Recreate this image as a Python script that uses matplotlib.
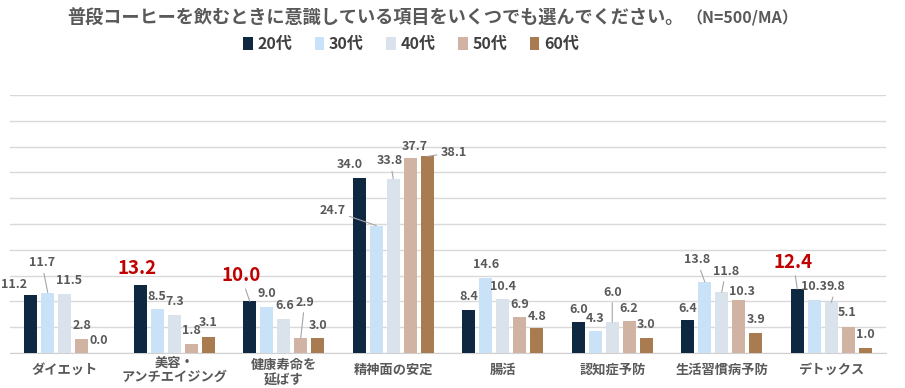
import matplotlib
matplotlib.use("Agg")
import matplotlib.pyplot as plt
from matplotlib.patches import Patch
from matplotlib.transforms import ScaledTranslation
import numpy as np

plt.rcParams["font.family"] = ["Noto Sans CJK JP", "DejaVu Sans"]

categories = ["ダイエット", "美容・\nアンチエイジング", "健康寿命を\n延ばす", "精神面の安定",
              "腸活", "認知症予防", "生活習慣病予防", "デトックス"]
age_groups = ["20代", "30代", "40代", "50代", "60代"]

v20 = [11.2, 13.2, 10.0, 34.0, 8.4, 6.0, 6.4, 12.4]
v30 = [11.7, 8.5, 9.0, 24.7, 14.6, 4.3, 13.8, 10.3]
v40 = [11.5, 7.3, 6.6, 33.8, 10.4, 6.0, 11.8, 9.8]
v50 = [2.8, 1.8, 2.9, 37.7, 6.9, 6.2, 10.3, 5.1]
v60 = [0.0, 3.1, 3.0, 38.1, 4.8, 3.0, 3.9, 1.0]
series = [v20, v30, v40, v50, v60]

title_main = "普段コーヒーを飲むときに意識している項目をいくつでも選んでください。"
title_note = "（N=500/MA）"

colors = ["#0E2841", "#C9E2F7", "#DAE3EC", "#D1B3A3", "#A87B51"]
text_gray = "#595959"
red = "#C00000"

# label placement: (series, category) -> (dx px, dy px, leader line)
label_pos = {
    (0, 0): (-17, 11, False), (1, 0): (-6, 30, True), (2, 0): (4, 13, False),
    (0, 1): (-3, 16, False), (2, 1): (1, 14, False), (4, 1): (0, 15, False),
    (0, 2): (-9, 26, True), (2, 2): (1, 13, False), (3, 2): (4, 36, True), (4, 2): (0, 12, False),
    (0, 3): (-10, 13, False), (1, 3): (-44, 15, True), (2, 3): (-3, 18, True),
    (3, 3): (5, 12, False), (4, 3): (27, 4, True),
    (4, 4): (0, 12, False),
    (1, 5): (0, 12, False), (2, 5): (0, 30, True),
    (0, 6): (0, 11, False), (1, 6): (-8, 22, True), (2, 6): (4, 21, True), (3, 6): (3, 8, False),
    (0, 7): (-4, 27, True), (2, 7): (5, 16, True), (3, 7): (-1, 14, False),
}
red_labels = {(0, 1), (0, 2), (0, 7)}

fig = plt.figure(figsize=(9.05, 3.88), dpi=100)
ax = fig.add_axes([10 / 905, 35 / 388, 876 / 905, 258 / 388])

x = np.arange(len(categories))
step = 0.155
width = 0.122
for s, vals in enumerate(series):
    xs = x + (s - 2) * step
    ax.bar(xs, vals, width=width, color=colors[s], zorder=3)
    for c, v in enumerate(vals):
        dx, dy, leader = label_pos.get((s, c), (0, 13, False))
        is_red = (s, c) in red_labels
        ax.annotate(
            f"{v:.1f}", xy=(xs[c], v), xytext=(dx, dy), textcoords="offset pixels",
            ha="center", va="center", fontweight="bold",
            fontsize=13.5 if is_red else 9,
            color=red if is_red else text_gray,
            arrowprops=dict(arrowstyle="-", color="#A6A6A6", lw=0.8, shrinkA=1, shrinkB=0)
            if leader else None,
            zorder=4,
        )

ax.set_xlim(-0.5, len(categories) - 0.5)
ax.set_ylim(0, 50)
ax.set_yticks(np.arange(0, 51, 5))
ax.yaxis.grid(True, color="#D9D9D9", lw=1)
ax.set_axisbelow(True)
ax.tick_params(axis="y", left=False, labelleft=False)
for side in ["top", "right", "left"]:
    ax.spines[side].set_visible(False)
ax.spines["bottom"].set_color("#D0D0D0")

ax.set_xticks(x, categories)
ax.tick_params(axis="x", length=0, pad=12.2, labelsize=9.5, labelcolor=text_gray)
for i, lbl in enumerate(ax.get_xticklabels()):
    lbl.set_fontweight("bold")
    lbl.set_va("center")
    lbl.set_linespacing(0.95)
    if i == 2:
        lbl.set_linespacing(1.2)
        lbl.set_transform(lbl.get_transform() + ScaledTranslation(0, -3 / 100, fig.dpi_scale_trans))

fig.text(67 / 905, 1 - 18 / 388, title_main, ha="left", va="center",
         fontsize=13.1, fontweight="bold", color=text_gray)
fig.text(686 / 905, 1 - 18 / 388, title_note, ha="left", va="center",
         fontsize=11.5, fontweight="bold", color=text_gray)

handles = [Patch(facecolor=c, edgecolor="none") for c in colors]
fig.legend(handles, age_groups, loc="center", bbox_to_anchor=(411 / 905, 1 - 44 / 388),
           ncol=5, frameon=False, handlelength=0.6, handleheight=0.8, handletextpad=0.3,
           columnspacing=1.4, prop={"size": 11.5, "weight": "bold"}, labelcolor="#404040")

fig.savefig("out.png", dpi=100)
